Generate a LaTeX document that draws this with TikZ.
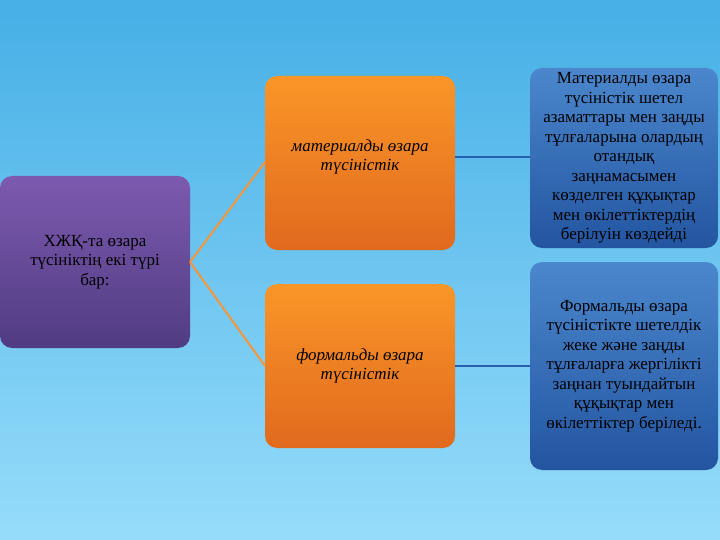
\documentclass[tikz,border=0pt]{standalone}
\usepackage{fontspec}
\setmainfont{Liberation Serif}
\begin{document}
\begin{tikzpicture}[x=1pt,y=-1pt,
 box/.style={rounded corners=12pt,draw=none},
 txt/.style={align=center,font=\fontsize{17}{19.5}\selectfont},
 itx/.style={align=center,font=\itshape\fontsize{17}{19.5}\selectfont},
 ol/.style={draw={rgb,255:red,245;green,150;blue,60},line width=2pt},
 bl/.style={draw={rgb,255:red,40;green,95;blue,175},line width=1.5pt}]
\shade[top color={rgb,255:red,70;green,175;blue,230},bottom color={rgb,255:red,150;green,220;blue,250}] (0,0) rectangle (720,540);
\useasboundingbox (0,0) rectangle (720,540);
\path[box,top color={rgb,255:red,125;green,90;blue,175},bottom color={rgb,255:red,80;green,60;blue,130}] (0,176) rectangle (190,348);
\node[txt] (p) at (95,262) {ХЖҚ-та өзара\\түсініктің екі түрі\\бар:};
\coordinate (pr) at (190,262);
\path[box,top color={rgb,255:red,250;green,150;blue,40},bottom color={rgb,255:red,225;green,105;blue,30}] (265,76) rectangle (455,250);
\node[itx] (o1) at (360,157) {материалды өзара\\түсіністік};
\path[box,top color={rgb,255:red,250;green,150;blue,40},bottom color={rgb,255:red,225;green,105;blue,30}] (265,284) rectangle (455,448);
\node[itx] (o2) at (360,366) {формальды өзара\\түсіністік};
\path[box,top color={rgb,255:red,75;green,135;blue,205},bottom color={rgb,255:red,35;green,85;blue,160}] (530,68) rectangle (718,248);
\node[txt] (b1) at (624,158) {Материалды өзара\\түсіністік шетел\\азаматтары мен заңды\\тұлғаларына олардың\\отандық\\заңнамасымен\\көзделген құқықтар\\мен өкілеттіктердің\\берілуін көздейді};
\path[box,top color={rgb,255:red,75;green,135;blue,205},bottom color={rgb,255:red,35;green,85;blue,160}] (530,262) rectangle (718,470);
\node[txt] (b2) at (624,366) {Формальды өзара\\түсіністікте шетелдік\\жеке және заңды\\тұлғаларға жергілікті\\заңнан туындайтын\\құқықтар мен\\өкілеттіктер беріледі.};
\coordinate (o1l) at (265,162); \coordinate (o2l) at (265,366);
\coordinate (o1r) at (455,157); \coordinate (b1l) at (530,157);
\coordinate (o2r) at (455,366); \coordinate (b2l) at (530,366);
\draw[ol] (pr) -- (o1l); \draw[ol] (pr) -- (o2l);
\draw[bl] (o1r) -- (b1l); \draw[bl] (o2r) -- (b2l);
\end{tikzpicture}
\end{document}
